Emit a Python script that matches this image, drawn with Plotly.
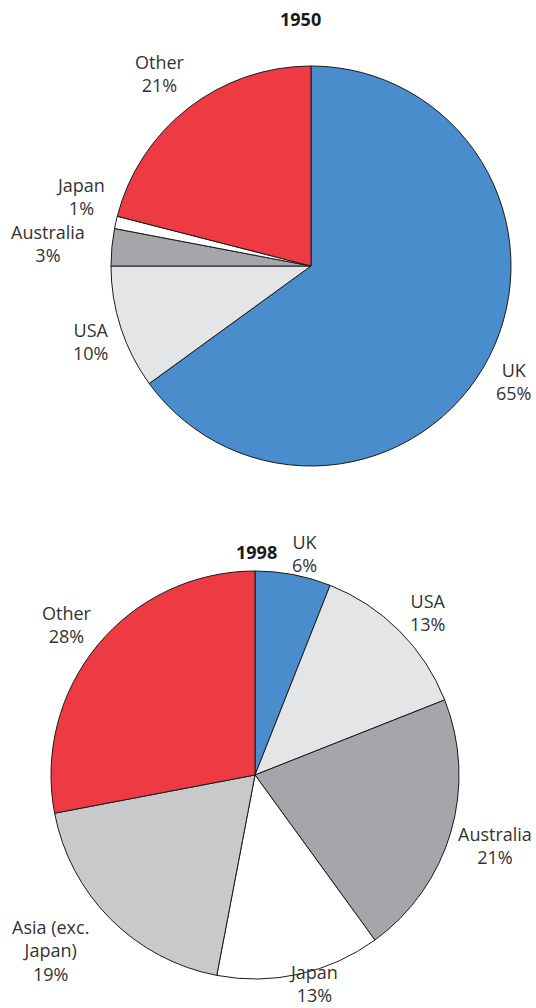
import plotly.graph_objects as go

labels_1950 = ["UK", "USA", "Australia", "Japan", "Other"]
values_1950 = [65, 10, 3, 1, 21]

labels_1998 = ["UK", "USA", "Australia", "Japan", "Asia (exc.<br>Japan)", "Other"]
values_1998 = [6, 13, 21, 13, 19, 28]

color_map = {
    "UK": "#4a8dcc",
    "USA": "#e4e5e7",
    "Australia": "#a5a6a9",
    "Japan": "#ffffff",
    "Asia (exc.<br>Japan)": "#c8c9cb",
    "Other": "#ee3a43",
}

W, H = 536, 1008
FONT = "Open Sans"

# label placement (layout, in window pixels from top-left)
label_pos_1950 = [(513, 381), (91, 341), (48, 243), (80, 197), (160, 74)]
label_pos_1998 = [(305, 553), (428, 612), (495, 845), (313, 983), (50, 950), (67, 624)]

def fx(px):
    return px / W

def fy(py):
    return 1 - py / H

def dom_x(a, b):
    return [fx(a), fx(b)]

def dom_y(top, bottom):
    return [fy(bottom), fy(top)]

fig = go.Figure()
for labels, values, dx, dy, pos in [
    (labels_1950, values_1950, dom_x(111, 511), dom_y(66, 466), label_pos_1950),
    (labels_1998, values_1998, dom_x(51, 459), dom_y(571, 979), label_pos_1998),
]:
    fig.add_trace(go.Pie(
        labels=labels,
        values=values,
        sort=False,
        direction="clockwise",
        rotation=0,
        marker=dict(colors=[color_map[l] for l in labels], line=dict(color="#1a1a1a", width=1)),
        textinfo="none",
        domain=dict(x=dx, y=dy),
        showlegend=False,
        hoverinfo="label+percent",
    ))
    total = sum(values)
    for lab, val, (px, py) in zip(labels, values, pos):
        fig.add_annotation(
            x=fx(px), y=fy(py), xref="paper", yref="paper",
            xanchor="center", yanchor="middle",
            text=f"{lab}<br>{round(100 * val / total)}%",
            showarrow=False, align="center",
            font=dict(family=FONT, size=18, color="#333333"),
        )

fig.add_annotation(x=fx(300), y=fy(19), xref="paper", yref="paper", text="<b>1950</b>",
                   xanchor="center", yanchor="middle",
                   showarrow=False, font=dict(family=FONT, size=18, color="#1a1a1a"))
fig.add_annotation(x=fx(256), y=fy(552), xref="paper", yref="paper", text="<b>1998</b>",
                   xanchor="center", yanchor="middle",
                   showarrow=False, font=dict(family=FONT, size=18, color="#1a1a1a"))

fig.update_layout(
    width=W, height=H,
    margin=dict(l=0, r=0, t=0, b=0),
    paper_bgcolor="white",
    plot_bgcolor="white",
)
fig.write_html(
    "out.html",
    config={"displayModeBar": False},
    post_script="document.body.style.margin='0';document.body.style.overflow='hidden';",
)
